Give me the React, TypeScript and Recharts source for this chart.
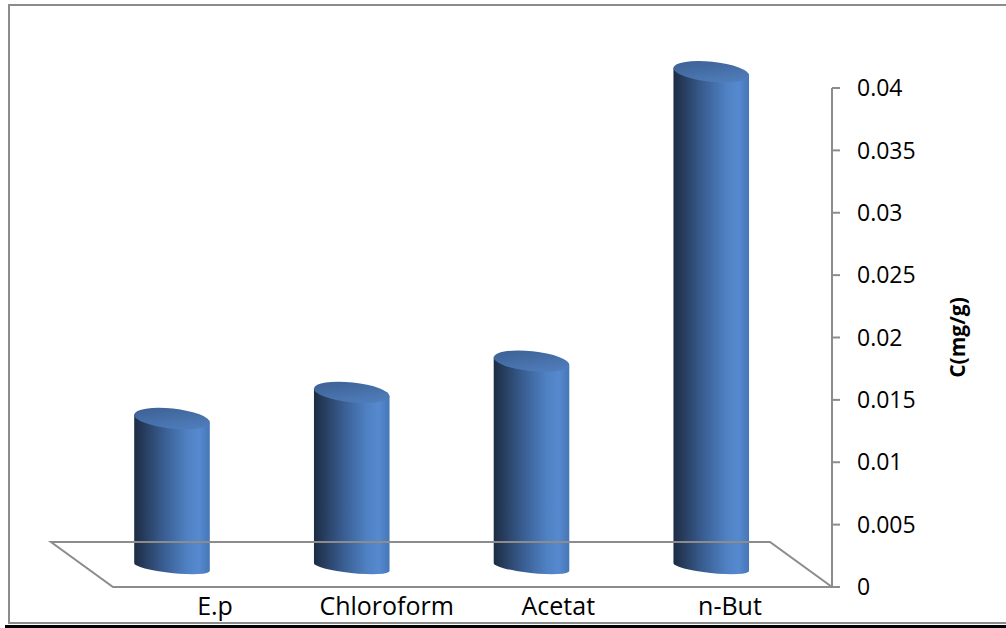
import React from 'react';
import { BarChart, Bar, XAxis, YAxis, ReferenceLine, Label } from 'recharts';

// Solvent fractions and their measured concentration (mg/g)
const solvents = ['E.p', 'Chloroform', 'Acetat', 'n-But'];
const concentrations = [0.0119, 0.014, 0.0165, 0.0397];
const yTicks = [0, 0.005, 0.01, 0.015, 0.02, 0.025, 0.03, 0.035, 0.04];

const data = solvents.map((name, i) => ({ name, c: concentrations[i] }));

// Pseudo-3D geometry: the floor recedes up and to the left
const DEPTH_X = -62;
const DEPTH_Y = -45;
const BASE_LIFT = -20; // cylinders stand on the middle of the floor
const TILT = 6; // ellipse tilt, degrees
const TOP_RY = 10;
const BOTTOM_RY = 6;
const LABEL_FORESHORTEN = 0.955; // category labels pulled slightly toward the centre

const PLOT = { left: 113, right: 832, top: 88, bottom: 587 };
const CHART_W = 1006;
const CHART_H = 628;

const AXIS_GRAY = '#8c8c8c';
const FONT = '"Open Sans", sans-serif';

const Floor = (props: any) => {
  const { x1, y1, x2, y2 } = props;
  const pts = [
    [x1, y1],
    [x2, y2],
    [x2 + DEPTH_X, y2 + DEPTH_Y],
    [x1 + DEPTH_X, y1 + DEPTH_Y],
  ]
    .map((p) => p.join(','))
    .join(' ');
  return <polygon points={pts} fill="none" stroke={AXIS_GRAY} strokeWidth={2} />;
};

const CategoryTick = (props: any) => {
  const { x, y, payload } = props;
  const mid = (PLOT.left + PLOT.right) / 2;
  const tx = mid + (x - mid) * LABEL_FORESHORTEN;
  return (
    <text x={tx} y={y} dy="0.71em" textAnchor="middle" fontFamily={FONT} fontSize={25} fill="#000">
      {payload.value}
    </text>
  );
};

const Cylinder = (props: any) => {
  const { x, y, width, height, index } = props;
  const rx = width / 2;
  const cx = x + rx + DEPTH_X / 2;
  const topY = y + BASE_LIFT;
  const botY = y + height + BASE_LIFT;
  const t = (TILT * Math.PI) / 180;
  const ex = rx * Math.cos(t);
  const ey = rx * Math.sin(t);
  const body = [
    `M ${cx - ex} ${topY - ey}`,
    `L ${cx - ex} ${botY - ey}`,
    `A ${rx} ${BOTTOM_RY} ${TILT} 0 0 ${cx + ex} ${botY + ey}`,
    `L ${cx + ex} ${topY + ey}`,
    'Z',
  ].join(' ');
  const bodyId = `cyl-body-${index}`;
  const capId = `cyl-cap-${index}`;
  return (
    <g>
      <defs>
        <linearGradient id={bodyId} x1="0" y1="0" x2="1" y2="0">
          <stop offset="0" stopColor="#1c2c44" />
          <stop offset="0.12" stopColor="#263b5b" />
          <stop offset="0.4" stopColor="#3a5f94" />
          <stop offset="0.7" stopColor="#4f81c3" />
          <stop offset="0.86" stopColor="#5689cf" />
          <stop offset="1" stopColor="#4676b6" />
        </linearGradient>
        <linearGradient id={capId} x1="0" y1="0" x2="1" y2="1">
          <stop offset="0" stopColor="#3a5d8f" />
          <stop offset="1" stopColor="#5383c3" />
        </linearGradient>
      </defs>
      <path d={body} fill={`url(#${bodyId})`} />
      <ellipse
        cx={cx}
        cy={topY}
        rx={rx}
        ry={TOP_RY}
        transform={`rotate(${TILT} ${cx} ${topY})`}
        fill={`url(#${capId})`}
      />
    </g>
  );
};

export default function App() {
  const yAxisWidth = CHART_W - PLOT.right;
  return (
    <div style={{ position: 'absolute', left: 0, top: 0, width: CHART_W, height: CHART_H, overflow: 'hidden', background: '#fff' }}>
      <div
        style={{
          position: 'absolute',
          left: 8,
          top: 4,
          width: 1010,
          height: 616,
          border: `2px solid ${AXIS_GRAY}`,
        }}
      />
      <div style={{ position: 'absolute', left: 5, top: 625, width: 1001, height: 3, background: '#000' }} />
      <div style={{ position: 'absolute', left: 0, top: 0 }}>
        <BarChart
          width={CHART_W}
          height={CHART_H}
          data={data}
          margin={{ top: PLOT.top, right: 0, bottom: 11, left: PLOT.left }}
        >
          <XAxis
            dataKey="name"
            height={CHART_H - 11 - PLOT.bottom}
            axisLine={false}
            tickLine={false}
            tickSize={6}
            tickMargin={4}
            interval={0}
            tick={<CategoryTick />}
          />
          <YAxis
            orientation="right"
            width={yAxisWidth}
            domain={[0, 0.04]}
            ticks={yTicks}
            interval={0}
            axisLine={{ stroke: AXIS_GRAY, strokeWidth: 2 }}
            tickLine={{ stroke: AXIS_GRAY, strokeWidth: 2 }}
            tickSize={8}
            tickMargin={17}
            tick={{ fill: '#000', fontSize: 23, fontFamily: FONT }}
          >
            <Label
              content={(p: any) => {
                const vb = p.viewBox;
                const lx = vb.x + vb.width - 49;
                const ly = vb.y + vb.height / 2;
                return (
                  <text
                    x={lx}
                    y={ly}
                    transform={`rotate(-90 ${lx} ${ly})`}
                    textAnchor="middle"
                    dominantBaseline="central"
                    fontFamily={FONT}
                    fontWeight="bold"
                    fontSize={21}
                    fill="#000"
                  >
                    C(mg/g)
                  </text>
                );
              }}
            />
          </YAxis>
          <ReferenceLine y={0} shape={Floor} />
          <Bar dataKey="c" barSize={76} isAnimationActive={false} shape={Cylinder} />
        </BarChart>
      </div>
    </div>
  );
}
